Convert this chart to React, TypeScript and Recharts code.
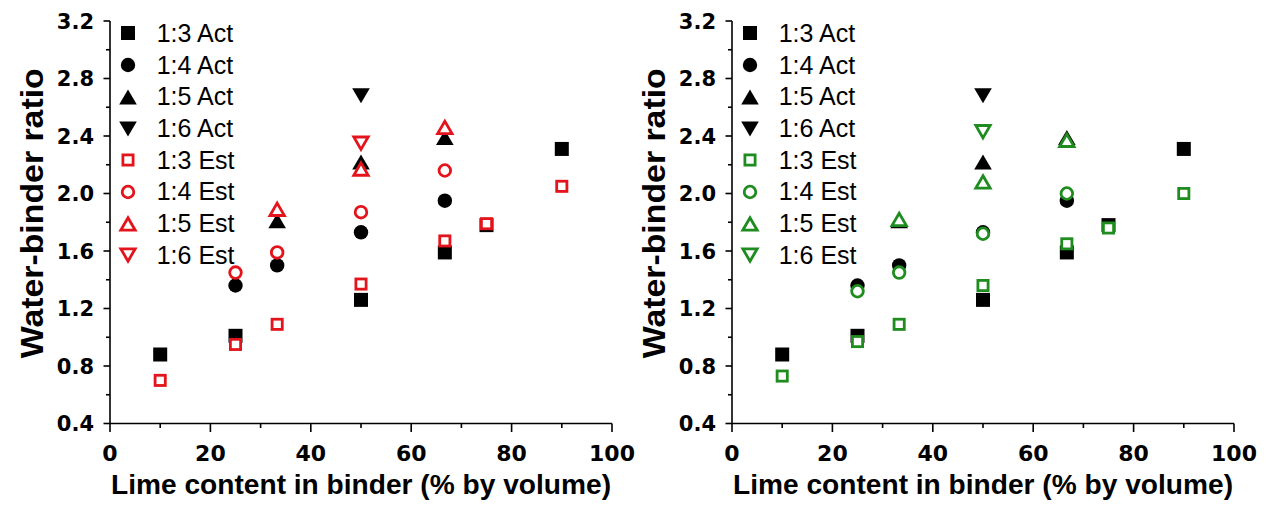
import React from 'react';
import { ScatterChart, Scatter, XAxis, YAxis, Legend } from 'recharts';

// lime content (% by volume) for each mix series
const LIME_13_ACT = [10, 25, 50, 66.7, 75, 90];
const LIME_13 = [10, 25, 33.3, 50, 66.7, 75, 90];
const LIME_14 = [25, 33.3, 50, 66.7];
const LIME_15 = [33.3, 50, 66.7];
const LIME_16 = [50];

// actual water-binder ratios (same in both panels)
const ACT_13 = [0.88, 1.01, 1.26, 1.59, 1.78, 2.31];
const ACT_14 = [1.36, 1.5, 1.73, 1.95];
const ACT_15 = [1.81, 2.22, 2.39];
const ACT_16 = [2.68];

// estimated ratios, left panel (red)
const RED_13 = [0.7, 0.95, 1.09, 1.37, 1.67, 1.79, 2.05];
const RED_14 = [1.45, 1.59, 1.87, 2.16];
const RED_15 = [1.89, 2.17, 2.46];
const RED_16 = [2.35];

// estimated ratios, right panel (green)
const GREEN_13 = [0.73, 0.97, 1.09, 1.36, 1.65, 1.76, 2.0];
const GREEN_14 = [1.32, 1.45, 1.72, 2.0];
const GREEN_15 = [1.82, 2.08, 2.37];
const GREEN_16 = [2.43];

const X_TICKS = [0, 10, 20, 30, 40, 50, 60, 70, 80, 90, 100];
const X_MAJOR = [0, 20, 40, 60, 80, 100];
const Y_TICKS = [0.4, 0.6, 0.8, 1.0, 1.2, 1.4, 1.6, 1.8, 2.0, 2.2, 2.4, 2.6, 2.8, 3.0, 3.2];
const Y_MAJOR = [0.4, 0.8, 1.2, 1.6, 2.0, 2.4, 2.8, 3.2];

const RED = '#e3141b';
const GREEN = '#1f8c1f';
const TICK_FONT = '"DejaVu Sans", sans-serif';
const TITLE_FONT = '"Liberation Sans", Arial, sans-serif';

type Kind = 'square' | 'circle' | 'up' | 'down';

const pts = (xs: number[], ys: number[]) => xs.map((x, i) => ({ x, y: ys[i] }));

const Marker = ({ cx, cy, kind, color, filled }: { cx: number; cy: number; kind: Kind; color: string; filled: boolean }) => {
  const sw = 2.8;
  const paint = filled
    ? { fill: color, stroke: 'none' }
    : { fill: '#fff', stroke: color, strokeWidth: sw };
  if (kind === 'square') {
    const s = filled ? 14 : 13 - sw;
    return <rect x={cx - s / 2} y={cy - s / 2} width={s} height={s} {...paint} />;
  }
  if (kind === 'circle') {
    const r = filled ? 7.2 : 7.2 - sw / 2;
    return <circle cx={cx} cy={cy} r={r} {...paint} />;
  }
  const w = filled ? 8.8 : 7.2;
  const h = filled ? 15 : 12.4;
  const d = kind === 'up' ? 1 : -1;
  const p = `${cx},${cy - (d * h) / 2} ${cx + w},${cy + (d * h) / 2} ${cx - w},${cy + (d * h) / 2}`;
  return <polygon points={p} {...paint} strokeLinejoin="miter" />;
};

const XTick = (props: any) => {
  const { x, y, payload } = props;
  const major = X_MAJOR.includes(payload.value);
  return (
    <g>
      <line x1={x} x2={x} y1={y} y2={y + (major ? 8.5 : 4.5)} stroke="#000" strokeWidth={1.6} />
      {major && (
        <text x={x} y={y + 37} textAnchor="middle" fontFamily={TICK_FONT} fontWeight="bold" fontSize={22} fill="#000">
          {payload.value}
        </text>
      )}
    </g>
  );
};

const YTick = (props: any) => {
  const { x, y, payload } = props;
  const major = Y_MAJOR.some(v => Math.abs(v - payload.value) < 1e-6);
  return (
    <g>
      <line x1={x} x2={x - (major ? 6.5 : 4)} y1={y} y2={y} stroke="#000" strokeWidth={1.6} />
      {major && (
        <text x={x - 16} y={y + 7.8} textAnchor="end" fontFamily={TICK_FONT} fontWeight="bold" fontSize={21} fill="#000">
          {payload.value.toFixed(1)}
        </text>
      )}
    </g>
  );
};

const XTitle = (props: any) => {
  const vb = props.viewBox || { x: 110, y: 423.5, width: 502 };
  return (
    <text
      x={vb.x + vb.width / 2}
      y={vb.y + 70}
      textAnchor="middle"
      fontFamily={TITLE_FONT}
      fontWeight="bold"
      fontSize={28}
      textLength={500}
      lengthAdjust="spacingAndGlyphs"
      fill="#000"
    >
      Lime content in binder (% by volume)
    </text>
  );
};

const YTitle = (props: any) => {
  const vb = props.viewBox || { x: 30, y: 21, width: 80, height: 402.5 };
  const x = vb.x + 13;
  const y = vb.y + vb.height / 2 - 9;
  return (
    <text
      x={x}
      y={y}
      transform={`rotate(-90, ${x}, ${y})`}
      textAnchor="middle"
      fontFamily={TITLE_FONT}
      fontWeight="bold"
      fontSize={31}
      textLength={290}
      lengthAdjust="spacingAndGlyphs"
      fill="#000"
    >
      Water-binder ratio
    </text>
  );
};

interface SeriesDef {
  name: string;
  data: { x: number; y: number }[];
  kind: Kind;
  color: string;
  filled: boolean;
}

const actSeries = (): SeriesDef[] => [
  { name: '1:3 Act', data: pts(LIME_13_ACT, ACT_13), kind: 'square', color: '#000', filled: true },
  { name: '1:4 Act', data: pts(LIME_14, ACT_14), kind: 'circle', color: '#000', filled: true },
  { name: '1:5 Act', data: pts(LIME_15, ACT_15), kind: 'up', color: '#000', filled: true },
  { name: '1:6 Act', data: pts(LIME_16, ACT_16), kind: 'down', color: '#000', filled: true },
];

const estSeries = (color: string, e13: number[], e14: number[], e15: number[], e16: number[]): SeriesDef[] => [
  { name: '1:3 Est', data: pts(LIME_13, e13), kind: 'square', color, filled: false },
  { name: '1:4 Est', data: pts(LIME_14, e14), kind: 'circle', color, filled: false },
  { name: '1:5 Est', data: pts(LIME_15, e15), kind: 'up', color, filled: false },
  { name: '1:6 Est', data: pts(LIME_16, e16), kind: 'down', color, filled: false },
];

const LegendBox = ({ items }: { items: SeriesDef[] }) => (
  <div>
    {items.map(s => (
      <div key={s.name} style={{ display: 'flex', alignItems: 'center', height: 31.7 }}>
        <svg width={22} height={22} style={{ overflow: 'visible' }}>
          <Marker cx={11} cy={11} kind={s.kind} color={s.color} filled={s.filled} />
        </svg>
        <span
          style={{
            marginLeft: 18,
            fontFamily: '"Liberation Sans", Arial, sans-serif',
            fontSize: 25,
            lineHeight: 1,
            color: '#000',
            whiteSpace: 'nowrap',
          }}
        >
          {s.name}
        </span>
      </div>
    ))}
  </div>
);

const Panel = ({ series, left }: { series: SeriesDef[]; left: number }) => (
  <div style={{ position: 'absolute', left, top: 0 }}>
    <ScatterChart width={640} height={505} margin={{ top: 21, right: 28, bottom: 0, left: 30 }}>
      <XAxis
        type="number"
        dataKey="x"
        domain={[0, 100]}
        ticks={X_TICKS}
        interval={0}
        tickLine={false}
        tickSize={0}
        tickMargin={0}
        tick={(p: any) => <XTick {...p} />}
        height={81.5}
        axisLine={{ stroke: '#000', strokeWidth: 1.6 }}
        label={<XTitle />}
      />
      <YAxis
        type="number"
        dataKey="y"
        domain={[0.4, 3.2]}
        ticks={Y_TICKS}
        interval={0}
        tickLine={false}
        tickSize={0}
        tickMargin={0}
        tick={(p: any) => <YTick {...p} />}
        width={80}
        axisLine={{ stroke: '#000', strokeWidth: 1.6 }}
        label={<YTitle />}
      />
      <Legend
        layout="vertical"
        align="center"
        verticalAlign="middle"
        wrapperStyle={{ left: 116.7, top: 17.6, width: 'auto', height: 'auto' }}
        content={() => <LegendBox items={series} />}
      />
      {series.map(s => (
        <Scatter
          key={s.name}
          name={s.name}
          data={s.data}
          fill={s.color}
          isAnimationActive={false}
          shape={(p: any) => <Marker cx={p.cx} cy={p.cy} kind={s.kind} color={s.color} filled={s.filled} />}
        />
      ))}
    </ScatterChart>
  </div>
);

export default function App() {
  const leftSeries = [...actSeries(), ...estSeries(RED, RED_13, RED_14, RED_15, RED_16)];
  const rightSeries = [...actSeries(), ...estSeries(GREEN, GREEN_13, GREEN_14, GREEN_15, GREEN_16)];
  return (
    <div style={{ position: 'absolute', left: 0, top: 0, width: 1271, height: 505, background: '#fff', overflow: 'hidden' }}>
      <Panel series={leftSeries} left={0} />
      <Panel series={rightSeries} left={622} />
    </div>
  );
}
